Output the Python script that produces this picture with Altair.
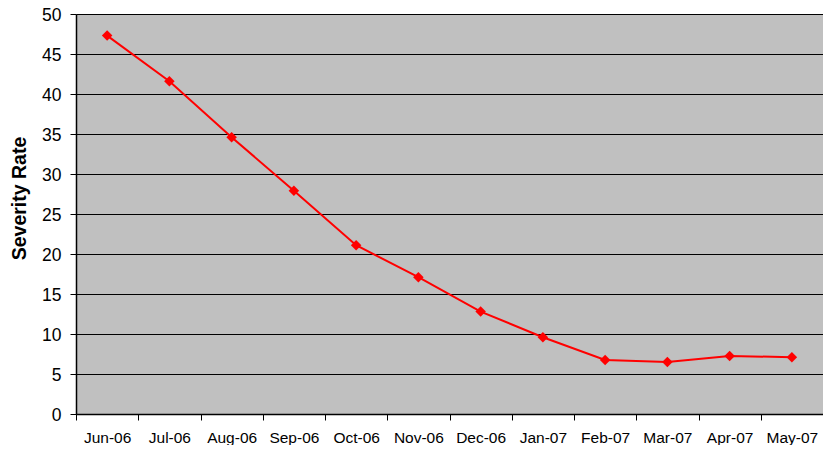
import altair as alt
import pandas as pd

months = ["Jun-06", "Jul-06", "Aug-06", "Sep-06", "Oct-06", "Nov-06",
          "Dec-06", "Jan-07", "Feb-07", "Mar-07", "Apr-07", "May-07"]
severity = [47.3, 41.6, 34.6, 27.9, 21.1, 17.1, 12.8, 9.6, 6.75, 6.5, 7.25, 7.1]
y_ticks = [0, 5, 10, 15, 20, 25, 30, 35, 40, 45, 50]

df = pd.DataFrame({"month": months, "severity": severity})

x = alt.X("month:N", sort=months, title=None,
          scale=alt.Scale(paddingInner=0, paddingOuter=0),
          axis=alt.Axis(tickBand="extent", labelAngle=0, labelFont="Liberation Sans",
                        labelFontSize=15.5, labelColor="black", tickColor="black",
                        domainColor="black", domainWidth=1.5, tickSize=6, tickWidth=1,
                        labelPadding=22, grid=False, labelBaseline="alphabetic"))
y = alt.Y("severity:Q", title="Severity Rate",
          scale=alt.Scale(domain=[0, 50], nice=False),
          axis=alt.Axis(values=y_ticks, labelFont="Liberation Sans", labelFontSize=17.5,
                        labelColor="black", tickColor="black", tickSize=6,
                        labelPadding=9, labelOffset=1, domainColor="black", domainWidth=1.5,
                        grid=True, gridColor="black", gridWidth=1,
                        titleFont="Liberation Sans", titleFontSize=19.5,
                        titleFontWeight="bold", titleColor="black",
                        titleAngle=270, titleAlign="center", titleBaseline="alphabetic",
                        titleX=-51, titleY=184))

line = alt.Chart(df).mark_line(color="#FF0000", strokeWidth=2).encode(x=x, y=y)
pts = alt.Chart(df).mark_point(shape="diamond", filled=True, color="#FF0000",
                               size=110, opacity=1).encode(x=x, y=y)

chart = (line + pts).properties(
    width=747, height=400,
    autosize=alt.AutoSizeParams(type="none"),
    padding={"left": 68, "top": 6, "right": 0, "bottom": 31},
    background="white",
).configure_view(fill="#C0C0C0", stroke=None)

chart.save("out.html", embed_options={"renderer": "svg", "actions": False})
